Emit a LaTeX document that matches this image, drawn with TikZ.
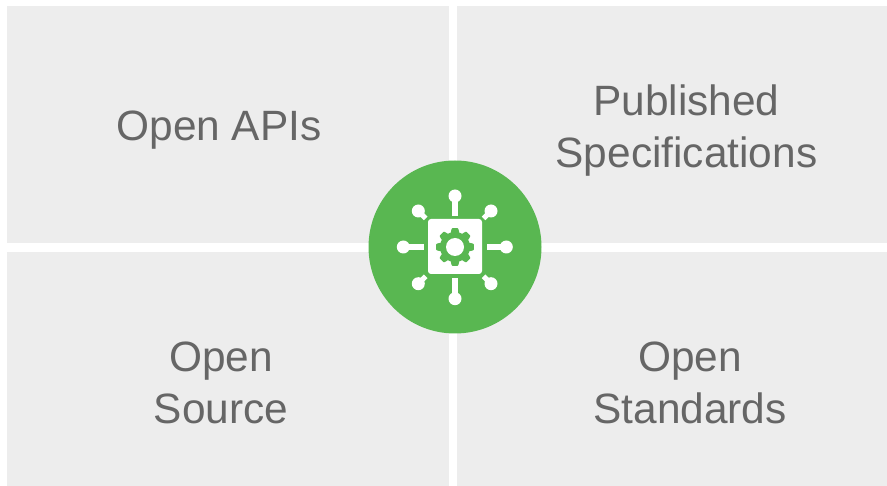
\documentclass[tikz,border=0pt]{standalone}
\usepackage{fontspec}
\setmainfont{Liberation Sans}
\definecolor{panel}{HTML}{EDEDED}
\definecolor{label}{HTML}{666666}
\definecolor{hub}{HTML}{59B751}
\tikzset{
  panelbox/.style={fill=panel,draw=none,inner sep=0pt,outer sep=0pt,anchor=north west},
  paneltext/.style={text=label,align=center,inner sep=0pt,font=\fontsize{42.4}{52.5}\selectfont},
  spoke/.style={draw=white,line width=5.2pt},
  knob/.style={circle,fill=white,draw=none,minimum size=13pt,inner sep=0pt}
}
\begin{document}
\begin{tikzpicture}[x=1pt,y=-1pt]
\useasboundingbox (0,0) rectangle (887,486);
\fill[white] (0,0) rectangle (887,486);
\node[panelbox,minimum width=442pt,minimum height=237pt] (tl) at (7,6) {};
\node[panelbox,minimum width=430pt,minimum height=237pt] (tr) at (457,6) {};
\node[panelbox,minimum width=442pt,minimum height=234pt] (bl) at (7,252) {};
\node[panelbox,minimum width=430pt,minimum height=234pt] (br) at (457,252) {};
\node[paneltext] (apis) at (219,130.5) {Open APIs};
\node[paneltext] (spec) at (686.5,130.5) {Published\\Specifications};
\node[paneltext] (source) at (221,383) {Open\\Source};
\node[paneltext] (standards) at (690,383) {Open\\Standards};
\node[circle,fill=hub,draw=none,minimum size=173pt,inner sep=0pt] (hubc) at (455,247) {};
\node[fill=white,draw=none,rounded corners=3pt,minimum width=54pt,minimum height=55pt,inner sep=0pt] (chip) at (455,246.5) {};
% gear
\begin{scope}[shift={(455,247)}]
  \fill[hub] (0,0) circle[radius=15];
  \foreach \a in {0,45,...,315}
    \fill[hub,rotate=\a,rounded corners=0.7pt] (13,-4.6) -- (18.8,-3.2) -- (18.8,3.2) -- (13,4.6) -- cycle;
  \fill[white] (0,0) circle[radius=9];
\end{scope}
% spokes
\node[knob] (kt) at (455,196) {};
\node[knob] (kb) at (455,298.7) {};
\node[knob] (kl) at (403.3,247) {};
\node[knob] (kr) at (506.3,247) {};
\node[knob] (ktl) at (418.3,211) {};
\node[knob] (ktr) at (491,211) {};
\node[knob] (kbl) at (418.3,283.7) {};
\node[knob] (kbr) at (491,283.7) {};
\coordinate (et) at (455,215.7);
\coordinate (eb) at (455,278);
\coordinate (el) at (423.7,247);
\coordinate (er) at (486.7,247);
\coordinate (etl) at (425.7,218.4);
\coordinate (etr) at (483.6,218.4);
\coordinate (ebl) at (425.7,276.3);
\coordinate (ebr) at (483.6,276.3);
\foreach \k/\e in {kt/et,kb/eb,kl/el,kr/er,ktl/etl,ktr/etr,kbl/ebl,kbr/ebr}
  \draw[spoke] (\k.center) -- (\e);
\end{tikzpicture}
\end{document}
